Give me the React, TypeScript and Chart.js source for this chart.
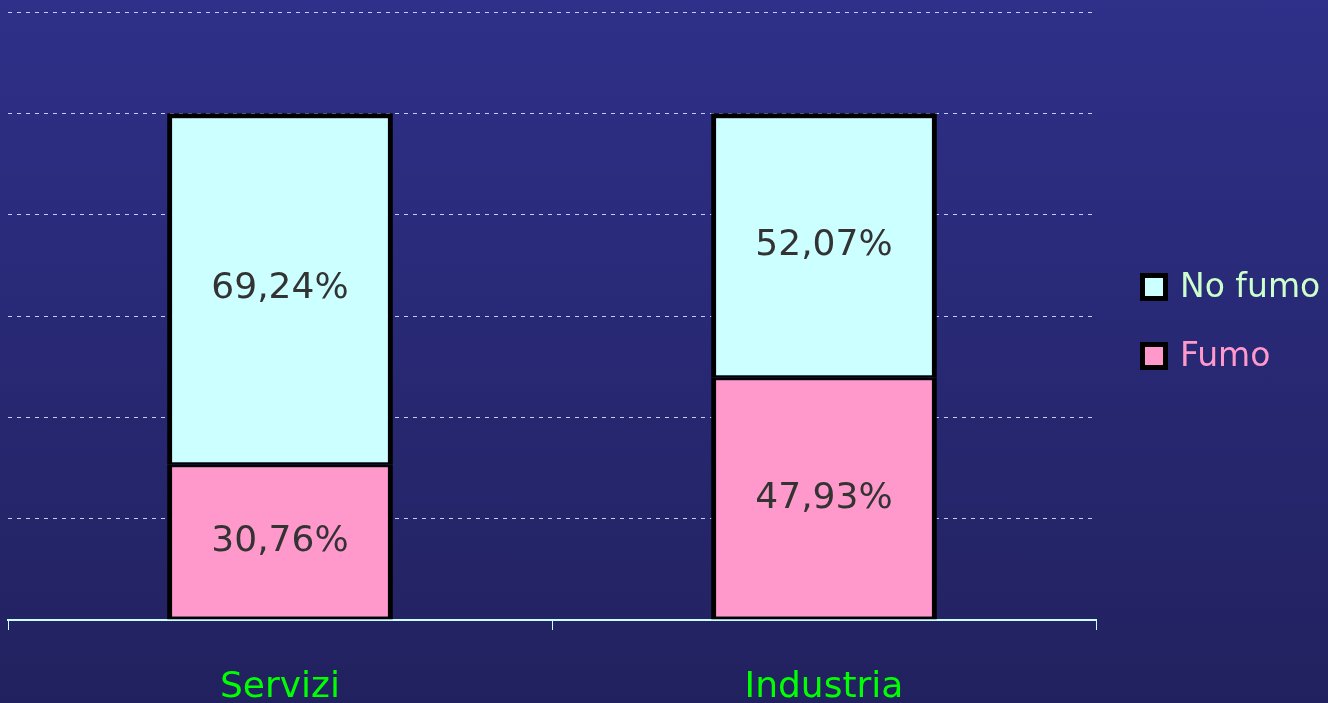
import React, { useEffect, useRef } from "react";
import { Chart, registerables } from "chart.js";

Chart.register(...registerables);

const categories = ["Servizi", "Industria"];
const fumo = [30.76, 47.93];
const noFumo = [69.24, 52.07];
const valueLabels = [
  ["30,76%", "47,93%"],
  ["69,24%", "52,07%"],
];
const seriesNames = ["Fumo", "No fumo"];

const FONT = '"Comic Sans MS", "DejaVu Sans", sans-serif';
const FILLS = ["#ff99cc", "#ccffff"];
const LEGEND_TEXT = ["#ff99cc", "#ccffcc"];

const labelPlugin = {
  id: "segLabels",
  afterDatasetsDraw(chart: any) {
    const ctx = chart.ctx;
    ctx.save();
    ctx.font = `36px ${FONT}`;
    ctx.fillStyle = "#333333";
    ctx.textAlign = "center";
    ctx.textBaseline = "middle";
    chart.data.datasets.forEach((ds: any, di: number) => {
      const meta = chart.getDatasetMeta(di);
      meta.data.forEach((el: any, i: number) => {
        const y = (el.y + el.base) / 2;
        ctx.fillText(valueLabels[di][i], el.x, y);
      });
    });
    ctx.restore();
  },
};

const legendPlugin = {
  id: "customLegend",
  afterDraw(chart: any) {
    const ctx = chart.ctx;
    const area = chart.chartArea;
    ctx.save();
    ctx.font = `33px ${FONT}`;
    ctx.textBaseline = "middle";
    ctx.textAlign = "left";
    const items = [1, 0];
    const ys = [287, 356];
    items.forEach((di, k) => {
      const y = ys[k];
      const bx = area.right + 44;
      ctx.fillStyle = "#000000";
      ctx.fillRect(bx, y - 14, 28, 28);
      ctx.fillStyle = FILLS[di];
      ctx.fillRect(bx + 5, y - 9, 18, 18);
      ctx.fillStyle = LEGEND_TEXT[di];
      ctx.fillText(seriesNames[di], bx + 40, y + 1);
    });
    ctx.restore();
  },
};

export default function App() {
  const ref = useRef<HTMLCanvasElement | null>(null);
  useEffect(() => {
    document.body.style.margin = "0";
    const canvas = ref.current!;
    const chart = new Chart(canvas, {
      type: "bar",
      data: {
        labels: categories,
        datasets: [
          {
            label: seriesNames[0],
            data: fumo,
            backgroundColor: FILLS[0],
            borderColor: "#000000",
            borderWidth: { left: 5, right: 5, top: 3, bottom: 3 },
            borderSkipped: false,
            barPercentage: 0.415,
            categoryPercentage: 1,
          },
          {
            label: seriesNames[1],
            data: noFumo,
            backgroundColor: FILLS[1],
            borderColor: "#000000",
            borderWidth: { left: 5, right: 5, top: 5, bottom: 2 },
            borderSkipped: false,
            barPercentage: 0.415,
            categoryPercentage: 1,
          },
        ],
      },
      options: {
        responsive: false,
        animation: false,
        layout: { padding: { left: 8, right: 232, top: 12, bottom: 0 } },
        plugins: {
          legend: { display: false },
          tooltip: { enabled: false },
        },
        scales: {
          x: {
            stacked: true,
            offset: true,
            afterFit(scale: any) {
              scale.height = 83;
            },
            grid: {
              offset: true,
              drawOnChartArea: false,
              color: "#ccffff",
              tickLength: 10,
              lineWidth: 1,
            },
            border: { color: "#ccffff", width: 2 },
            ticks: {
              color: "#00ff00",
              font: { family: FONT, size: 36, lineHeight: 1 },
              padding: 40,
            },
          },
          y: {
            stacked: true,
            min: 0,
            max: 120,
            ticks: { display: false, stepSize: 20 },
            border: { display: false, dash: [4, 5] },
            grid: {
              drawTicks: false,
              color: "rgba(200,215,255,0.95)",
              lineWidth: 1,
            },
          },
        },
      } as any,
      plugins: [labelPlugin, legendPlugin],
    });
    return () => chart.destroy();
  }, []);
  return (
    <div
      style={{
        width: 1328,
        height: 703,
        overflow: "hidden",
        background: "linear-gradient(to bottom, #2e3089 0%, #22215f 100%)",
      }}
    >
      <canvas ref={ref} width={1328} height={703} style={{ display: "block" }} />
    </div>
  );
}
